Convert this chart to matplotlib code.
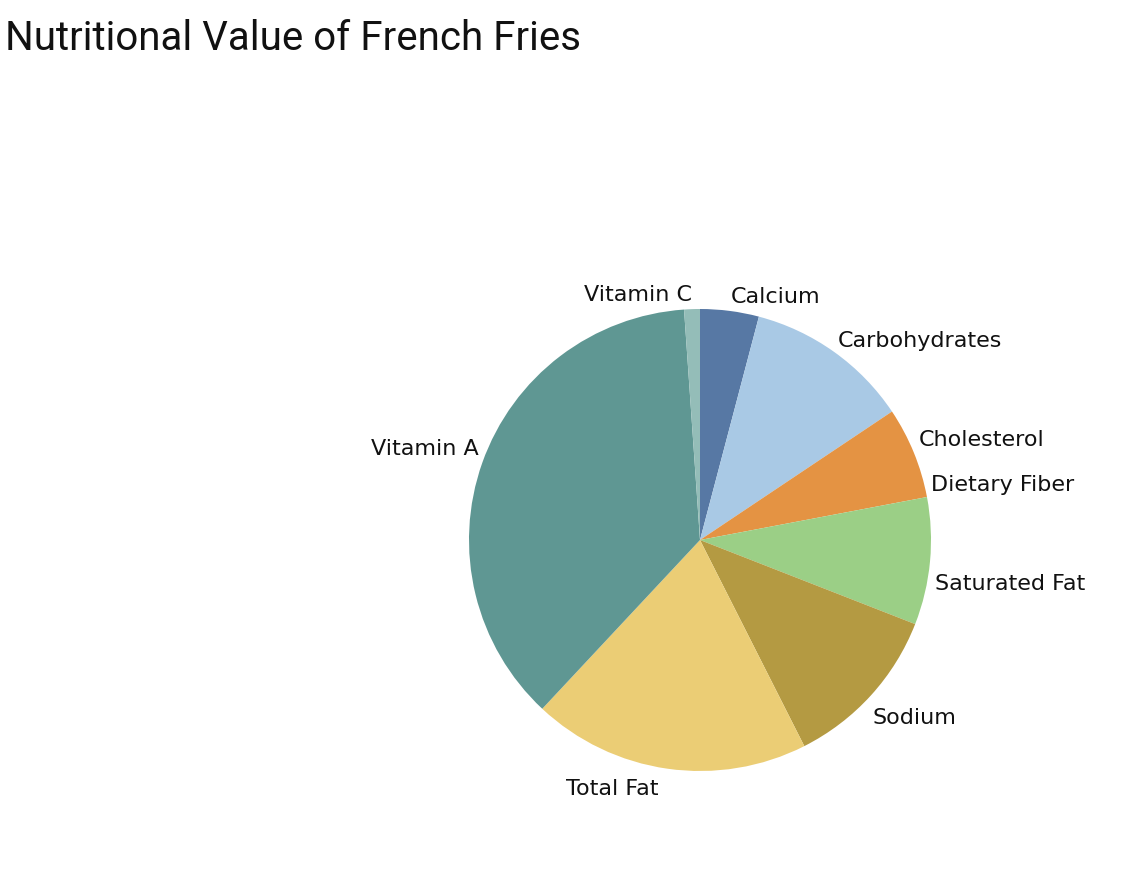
import numpy as np
import matplotlib.pyplot as plt

# share of each nutrient (scaled to 100)
nutrients = ['Calcium', 'Carbohydrates', 'Cholesterol', 'Dietary Fiber',
             'Saturated Fat', 'Sodium', 'Total Fat', 'Vitamin A', 'Vitamin C']
values = [4.1, 11.5, 6.4, 0.0, 8.9, 11.6, 19.4, 36.9, 1.1]
colors = ['#5778a4', '#a9c9e5', '#e49343', '#f5c08a', '#9bcf86',
          '#b49a42', '#ebcd75', '#5f9793', '#94bdb8']

W, H = 1142, 872
fig = plt.figure(figsize=(W / 100, H / 100), dpi=100)

# pie: centre (700, 540) px, radius 231 px
cx, cy, r = 700, 540, 231
ax = fig.add_axes([(cx - r) / W, (H - cy - r) / H, 2 * r / W, 2 * r / H])
wedges, _ = ax.pie(values, colors=colors, startangle=90, counterclock=False,
                   radius=1, wedgeprops=dict(linewidth=0))
ax.set_xlim(-1, 1)
ax.set_ylim(-1, 1)
ax.set_aspect('equal')
ax.axis('off')

# small nudges (pixels: +x = right, +y = down) so labels spread like the original
nudge = {'Carbohydrates': (-3, 0), 'Cholesterol': (-6, -7),
         'Dietary Fiber': (-7, -9), 'Saturated Fat': (-7, 21),
         'Sodium': (-7, 13), 'Total Fat': (-7, 7), 'Vitamin A': (7, -9)}
for w, name in zip(wedges, nutrients):
    mid = np.deg2rad((w.theta1 + w.theta2) / 2)
    x, y = 1.05 * np.cos(mid), 1.06 * np.sin(mid)
    dx, dy = nudge.get(name, (0, 0))
    x += dx / r
    y -= dy / r
    ha = 'left' if x >= 0 else 'right'
    ax.text(x, y, name, ha=ha, va='center', fontsize=16,
            family='DejaVu Sans', color='#111111')

fig.text(5 / W, 1 - 38 / H, 'Nutritional Value of French Fries',
         ha='left', va='center', fontsize=29,
         family=['Roboto', 'DejaVu Sans'], color='#111111')

fig.savefig('out.png', dpi=100)
